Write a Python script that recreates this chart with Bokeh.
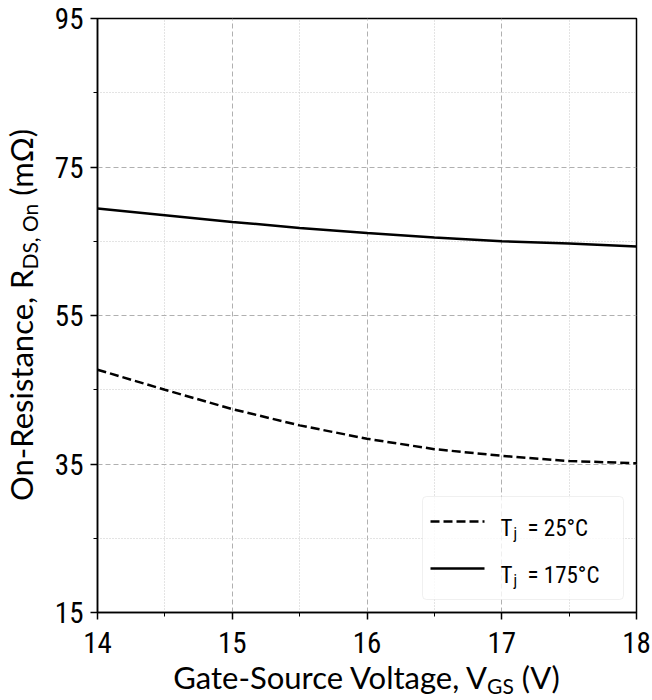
import numpy as np
from bokeh.plotting import figure
from bokeh.models import Range1d, FixedTicker, Label, BoxAnnotation, Arrow, GridBox, Div
from bokeh.embed import file_html
from bokeh.resources import INLINE

# ---- data ----
vgs = [14.0, 14.5, 15.0, 15.5, 16.0, 16.5, 17.0, 17.5, 18.0]
r_on_25 = [47.7, 45.0, 42.4, 40.2, 38.4, 37.0, 36.1, 35.4, 35.1]
r_on_175 = [69.4, 68.5, 67.6, 66.8, 66.1, 65.5, 65.0, 64.7, 64.3]
x_ticks = [14, 15, 16, 17, 18]
x_minor = [14.5, 15.5, 16.5, 17.5]
y_ticks = [15, 35, 55, 75, 95]
y_minor = [25, 45, 65, 85]
series_names = ["25°C", "175°C"]
x_title = ("Gate-Source Voltage, V", "GS", " (V)")
y_title = ("On-Resistance, R", "DS, On", " (mΩ)")

W, H = 652, 700
FL, FR, FT, FB = 97, 636, 18, 612
TICK_FONT = "Roboto Condensed, DejaVu Sans Condensed, Roboto"
LABEL_FONT = "Lato"

p = figure(width=W, height=H, x_range=Range1d(14, 18), y_range=Range1d(15, 95),
           output_backend="svg", toolbar_location=None,
           min_border_left=FL, min_border_right=W - FR,
           min_border_top=FT, min_border_bottom=H - FB)
p.background_fill_color = "white"
p.border_fill_color = None
p.outline_line_color = "black"
p.outline_line_width = 1.5
p.outline_line_alpha = 1.0

xt = FixedTicker(ticks=x_ticks, minor_ticks=x_minor)
yt = FixedTicker(ticks=y_ticks, minor_ticks=y_minor)
p.xaxis.ticker = xt
p.yaxis.ticker = yt
p.xgrid.ticker = xt
p.ygrid.ticker = yt

for ax in (p.xaxis[0], p.yaxis[0]):
    ax.axis_line_color = "black"
    ax.axis_line_width = 1.5
    ax.major_tick_line_color = "black"
    ax.major_tick_line_width = 1.5
    ax.minor_tick_line_color = "black"
    ax.minor_tick_line_width = 1.0
    ax.major_tick_in = 0
    ax.major_tick_out = 7
    ax.minor_tick_in = 0
    ax.minor_tick_out = 4
    ax.major_label_text_font = TICK_FONT
    ax.major_label_text_font_size = "29px"
    ax.major_label_text_color = "black"
    ax.axis_label = None
p.xaxis.major_label_standoff = 12
p.yaxis.major_label_standoff = 7

for g in (p.xgrid[0], p.ygrid[0]):
    g.grid_line_color = "#b0b0b0"
    g.grid_line_width = 1
    g.grid_line_dash = "5 3"
    g.minor_grid_line_color = "#c8c8c8"
    g.minor_grid_line_width = 1
    g.minor_grid_line_dash = "1 2"

p.line(vgs, r_on_175, line_color="black", line_width=2.5)
p.line(vgs, r_on_25, line_color="black", line_width=2.5, line_dash="9 4")


def lab(text, X, Y, size, font=LABEL_FONT, align="left", angle=0.0):
    p.add_layout(Label(x=X - FL, y=FB - Y, x_units="screen", y_units="screen",
                       text=text, text_font=font, text_font_size=f"{size}px",
                       text_align=align, text_baseline="alphabetic",
                       angle=angle, text_color="black"))


# legend
p.add_layout(BoxAnnotation(left=422 - FL, right=623 - FL, top=FB - 496, bottom=FB - 599,
                           left_units="screen", right_units="screen",
                           top_units="screen", bottom_units="screen",
                           fill_color="white", fill_alpha=0.8,
                           line_color="#cccccc", line_width=1, border_radius=4))
rows = [(521, "9 4"), (568, "solid")]
for (yy, dash), name in zip(rows, series_names):
    p.add_layout(Arrow(x_start=430 - FL, y_start=FB - yy, x_end=484 - FL, y_end=FB - yy,
                       start_units="screen", end_units="screen", start=None, end=None,
                       line_color="black", line_width=2.5, line_dash=dash))
    base = yy + 7
    lab("T", 500, base, 23, font=TICK_FONT)
    lab("j", 513, base + 5, 16, font=TICK_FONT)
    lab("= " + name, 527, base, 23, font=TICK_FONT)

# axis titles with subscripts, as HTML laid over the figure
FS, SUB = 31, 21
span = ("position:absolute;white-space:nowrap;display:block;height:{h}px;line-height:{h}px;"
        "font-family:Lato;font-size:{fs}px;color:#000;")
sub = "font-size:{s}px;vertical-align:-5px;line-height:0;".format(s=SUB)


def title_html(parts):
    return "{}<span style=\"{}\">{}</span>{}".format(parts[0], sub, parts[1], parts[2])


cx = (FL + FR) / 2
cy = (FT + FB) / 2
x_html = ("<span style=\"" + span.format(h=FS, fs=FS) +
          f"left:{cx}px;top:{689 - 27}px;transform:translateX(-50%);\">" +
          title_html(x_title) + "</span>")
y_html = ("<span style=\"" + span.format(h=FS, fs=FS) +
          f"left:{33 - 12}px;top:{cy}px;transform:translate(-50%,-50%) rotate(-90deg);\">" +
          title_html(y_title) + "</span>")
div = Div(text=f"<div style=\"position:relative;width:{W}px;height:{H}px;\">{x_html}{y_html}</div>",
          width=W, height=H, margin=0)

layout = GridBox(children=[(p, 0, 0), (div, 0, 0)])
open("out.html", "w").write(file_html(layout, INLINE))
